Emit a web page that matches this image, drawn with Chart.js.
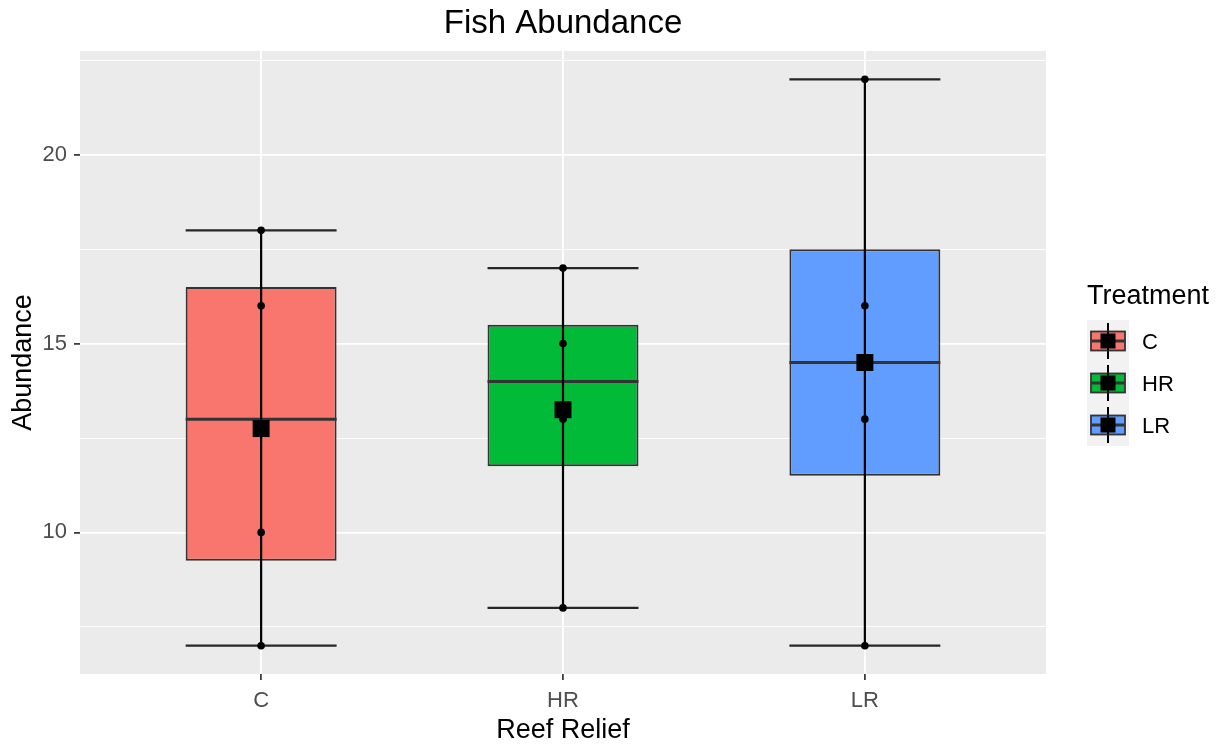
<!DOCTYPE html>
<html>
<head>
<meta charset="utf-8">
<title>Fish Abundance</title>
<script src="https://cdn.jsdelivr.net/npm/chart.js@4.4.0/dist/chart.umd.min.js"></script>
<style>
  html, body { margin: 0; padding: 0; background: #ffffff; }
  #wrap { width: 1222px; height: 744px; }
</style>
</head>
<body>
<div id="wrap"><canvas id="fishChart" width="1222" height="744"></canvas></div>
<script>
// reef relief groups, ggplot default hues for the treatment fill
const categories = ['C', 'HR', 'LR'];
const fillColors = ['#F8766D', '#00BA38', '#619CFF'];

// box statistics
const lowerQuartile = [9.25, 11.75, 11.5];
const medians = [13, 14, 14.5];
const upperQuartile = [16.5, 15.5, 17.5];
const minimums = [7, 8, 7];
const maximums = [18, 17, 22];
const means = [12.75, 13.25, 14.5];

// individual abundance counts per group
const countsC = [7, 10, 16, 18];
const countsHR = [8, 13, 15, 17];
const countsLR = [7, 13, 16, 22];

const yTicks = [7.5, 10, 12.5, 15, 17.5, 20, 22.5];

Chart.defaults.font.family = '"Liberation Sans", Arial, sans-serif';

const FONT = '"Liberation Sans", Arial, sans-serif';

const pointData = [countsC, countsHR, countsLR].flatMap((arr, i) =>
  arr.map(v => ({ x: i, y: v }))
);

const boxExtras = {
  id: 'boxExtras',
  beforeDraw(chart) {
    const { ctx, chartArea: a } = chart;
    ctx.save();
    ctx.fillStyle = '#EBEBEB';
    ctx.fillRect(a.left, a.top, a.right - a.left, a.bottom - a.top);
    ctx.restore();
  },
  afterDatasetDraw(chart, args) {
    if (args.index !== 0) return;
    const { ctx, scales: { y } } = chart;
    ctx.save();
    args.meta.data.forEach((bar, i) => {
      const half = bar.width / 2;
      // median line
      const ym = y.getPixelForValue(medians[i]);
      ctx.strokeStyle = '#333333';
      ctx.lineWidth = 3;
      ctx.beginPath();
      ctx.moveTo(bar.x - half, ym);
      ctx.lineTo(bar.x + half, ym);
      ctx.stroke();
      // range error bar
      const yLo = y.getPixelForValue(minimums[i]);
      const yHi = y.getPixelForValue(maximums[i]);
      ctx.lineWidth = 2.2;
      ctx.strokeStyle = '#262626';
      ctx.beginPath();
      ctx.moveTo(bar.x - half, yLo);
      ctx.lineTo(bar.x + half, yLo);
      ctx.moveTo(bar.x - half, yHi);
      ctx.lineTo(bar.x + half, yHi);
      ctx.stroke();
      ctx.strokeStyle = '#000000';
      ctx.beginPath();
      ctx.moveTo(bar.x, yLo);
      ctx.lineTo(bar.x, yHi);
      ctx.stroke();
    });
    ctx.restore();
  },
  afterDraw(chart) {
    const { ctx, chartArea: a } = chart;
    ctx.save();
    // title
    ctx.fillStyle = '#000000';
    ctx.font = '33px ' + FONT;
    ctx.textAlign = 'center';
    ctx.textBaseline = 'alphabetic';
    ctx.fillText('Fish Abundance', (a.left + a.right) / 2, 33);

    // legend
    const lx = a.right + 41;
    const top = 320;
    const keyW = 42;
    const keyH = 42;
    ctx.textAlign = 'left';
    ctx.font = '27px ' + FONT;
    ctx.fillText('Treatment', lx, 304);
    ctx.fillStyle = '#F2F2F2';
    ctx.fillRect(lx, top, keyW, keyH * categories.length);
    categories.forEach((c, i) => {
      const cx = lx + keyW / 2;
      const cy = top + keyH * (i + 0.5);
      ctx.strokeStyle = '#000000';
      ctx.lineWidth = 2;
      ctx.beginPath();
      ctx.moveTo(cx, cy - 18);
      ctx.lineTo(cx, cy + 18);
      ctx.stroke();
      ctx.fillStyle = fillColors[i];
      ctx.fillRect(cx - 17, cy - 9.5, 34, 19);
      ctx.strokeStyle = '#333333';
      ctx.lineWidth = 1.8;
      ctx.strokeRect(cx - 17, cy - 9.5, 34, 19);
      ctx.lineWidth = 3;
      ctx.beginPath();
      ctx.moveTo(cx - 17, cy);
      ctx.lineTo(cx + 17, cy);
      ctx.stroke();
      ctx.strokeStyle = '#000000';
      ctx.lineWidth = 2;
      ctx.beginPath();
      ctx.moveTo(cx, cy - 9.5);
      ctx.lineTo(cx, cy + 9.5);
      ctx.stroke();
      ctx.fillStyle = '#000000';
      ctx.fillRect(cx - 7.5, cy - 7.5, 15, 15);
      ctx.font = '22px ' + FONT;
      ctx.textBaseline = 'middle';
      ctx.fillText(c, lx + 55, cy + 2);
      ctx.textBaseline = 'alphabetic';
    });
    ctx.restore();
  }
};

new Chart(document.getElementById('fishChart'), {
  type: 'bar',
  data: {
    datasets: [
      {
        label: 'Box',
        data: categories.map((c, i) => ({ x: i, y: [lowerQuartile[i], upperQuartile[i]] })),
        backgroundColor: fillColors,
        borderColor: '#333333',
        borderWidth: 2,
        borderSkipped: false,
        categoryPercentage: 1,
        barPercentage: 0.5,
        order: 2
      },
      {
        type: 'scatter',
        label: 'Counts',
        data: pointData,
        pointRadius: 3.8,
        pointBackgroundColor: '#000000',
        pointBorderWidth: 0,
        order: 1
      },
      {
        type: 'scatter',
        label: 'Mean',
        data: categories.map((c, i) => ({ x: i, y: means[i] })),
        pointStyle: 'rect',
        pointRadius: 12,
        pointBackgroundColor: '#000000',
        pointBorderWidth: 0,
        order: 0
      }
    ]
  },
  options: {
    responsive: false,
    animation: false,
    devicePixelRatio: 1,
    layout: { padding: { top: 51, right: 176, left: 0, bottom: 0 } },
    plugins: {
      legend: { display: false },
      tooltip: { enabled: false },
      title: { display: false }
    },
    scales: {
      x: {
        type: 'linear',
        min: -0.6,
        max: 2.6,
        offset: false,
        afterBuildTicks: s => { s.ticks = categories.map((c, i) => ({ value: i })); },
        afterFit: s => { s.height = 70; },
        ticks: {
          callback: v => categories[v],
          font: { size: 22 },
          color: '#4D4D4D',
          padding: 8,
          maxRotation: 0,
          autoSkip: false
        },
        grid: { offset: false, color: '#FFFFFF', lineWidth: 1.8, tickColor: '#333333', tickLength: 6, tickWidth: 1.7 },
        border: { display: false },
        title: { display: true, text: 'Reef Relief', font: { size: 27 }, color: '#000000', padding: { top: 0, bottom: -3 } }
      },
      y: {
        min: 6.25,
        max: 22.75,
        afterBuildTicks: s => { s.ticks = yTicks.map(v => ({ value: v })); },
        afterFit: s => { s.width = 80; },
        ticks: {
          callback: v => (v % 5 === 0 ? String(v) : ''),
          font: { size: 22 },
          color: '#4D4D4D',
          padding: 7
        },
        grid: {
          color: '#FFFFFF',
          lineWidth: ctx => (ctx.tick && ctx.tick.value % 5 === 0 ? 1.8 : 0.9),
          tickColor: ctx => (ctx.tick && ctx.tick.value % 5 === 0 ? '#333333' : 'rgba(0,0,0,0)'),
          tickLength: 6,
          tickWidth: 1.7
        },
        border: { display: false },
        title: { display: true, text: 'Abundance', font: { size: 27 }, color: '#000000', padding: { top: 7, bottom: 0 } }
      }
    }
  },
  plugins: [boxExtras]
});
</script>
</body>
</html>
